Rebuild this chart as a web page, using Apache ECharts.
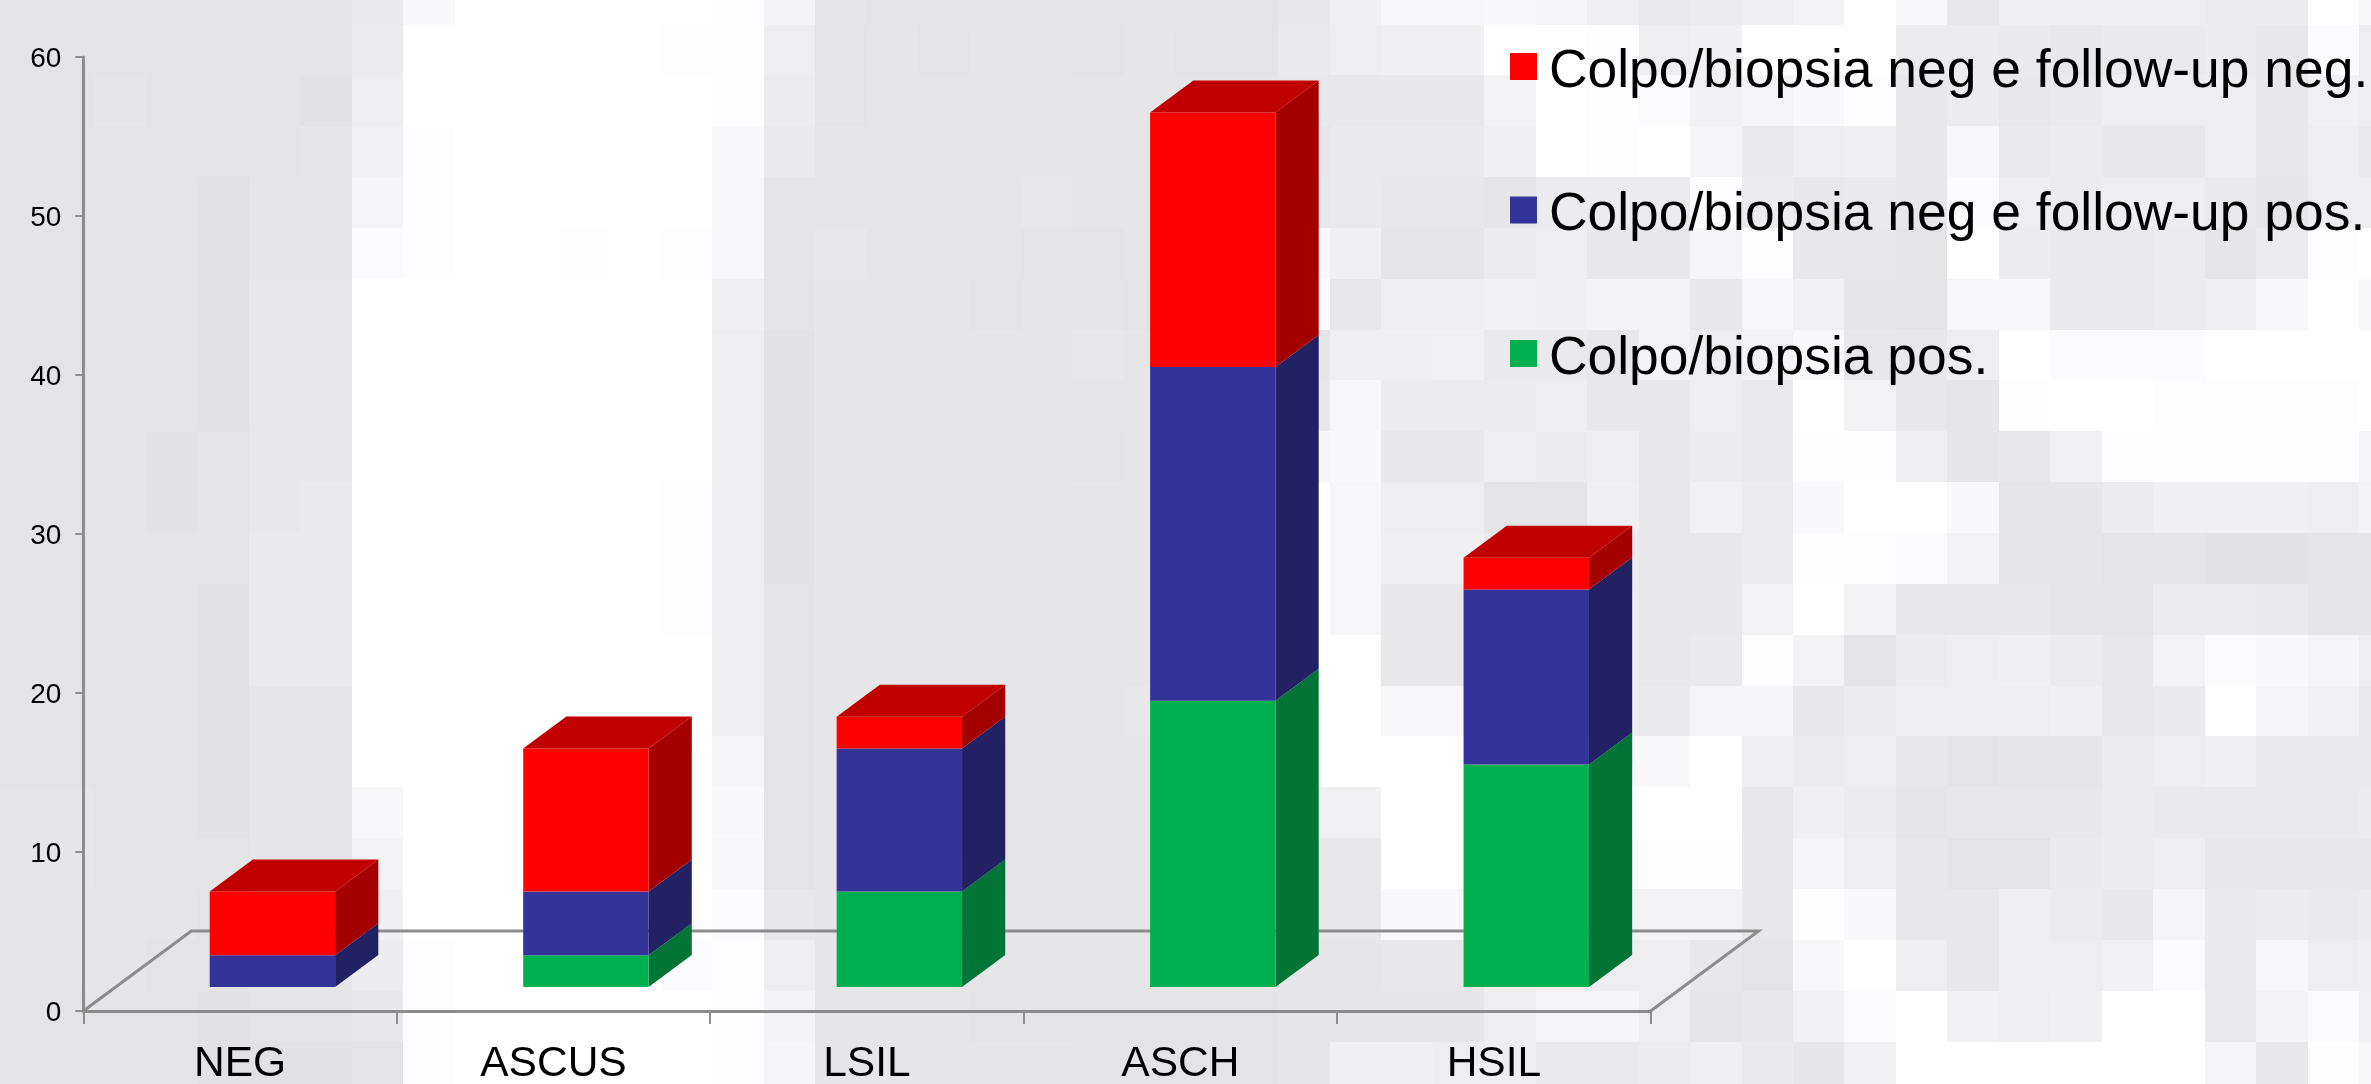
<!DOCTYPE html>
<html>
<head>
<meta charset="utf-8">
<style>
  html, body { margin: 0; padding: 0; background: #fff; }
  #chart { width: 2371px; height: 1084px; }
</style>
<script src="https://cdn.jsdelivr.net/npm/echarts@6/dist/echarts.min.js"></script>
</head>
<body>
<div id="chart"></div>
<script>
// Categories and stacked counts per cytology class
const categories = ['NEG', 'ASCUS', 'LSIL', 'ASCH', 'HSIL'];
const colpoPos = [0, 2, 6, 18, 14];
const followUpPos = [2, 4, 9, 21, 11];
const followUpNeg = [4, 9, 2, 16, 2];
const valueTicks = { min: 0, max: 60, interval: 10 };

const layerNames = [
  'Colpo/biopsia pos.',
  'Colpo/biopsia neg e follow-up pos.',
  'Colpo/biopsia neg e follow-up neg.'
];
const layerShades = [
  { front: '#00b050', side: '#007535', top: '#008a40' },
  { front: '#333399', side: '#212163', top: '#28287a' },
  { front: '#ff0000', side: '#a50000', top: '#c00000' }
];

// Slide backdrop: gray level of each tile, one hex digit per tile, one string per row
const backdropRows = [
  '11111114cfffffe9' + '211111111' + '37bbca' + '645 69fc366665 5fc'.replace(/ /g, ''),
  '11111115fffffee6' + '121221211' + '4677ff' + 'e67fff55434453d6',
  '1121110' + '6ffffffe5'        + '122222222' + '33339f' + 'ed8ace3534666386',
  '11111128efffffc4' + '222222222' + '24447f' + 'efa4673b45336364',
  '1111022aefffffb2' + '222232222' + '343325' + '55e5343d65664266',
  '1111022deffefeb2' + '322211212' + 'c72256' + '33ae331f544525ef',
  '1111033fffffff71' + '222122122' + 'e36687' + '993b821bb4456bfc',
  '1111033fffffff60' + '222223222' + '277844' + '3969c336fdddffff',
  '1111033fffffff60' + '222222222' + '3b5556' + '3364f932effeeeef',
  '1110133fffffff60' + '222221222' + 'bc3365' + '6354ee6238eeeeea',
  '1110134ffffffe60' + '222222222' + 'fb6611' + '7385cffc22577769',
  '1111144ffffffe60' + '222222222' + 'fb7744' + '5335eed922110011',
  '1111044ffffffe61' + '222222222' + 'fb3344' + '5339f93332255422',
  '1111044fffffff61' + '222222222' + 'ff3344' + '534e91567539dca6',
  '1111022fffffff61' + '222222322' + 'ffbb55' + '54aa35666734fa84',
  '1111022fffffffa1' + '222222222' + 'ffffcc' + 'ccf6563122567444',
  '2211022bffffffc1' + '222222222' + '88ffee' + 'fff3752333544445',
  '22111229ffffffb1' + '222222222' + '33ffee' + 'eee3a63114563333',
  '22221337ffffffd3' + '222222222' + '33cc88' + '9993ec33653a4545',
  '22211225effffde6' + '222222222' + '223366' + '6631bf63668d4b67',
  '11110113efffffe9' + '222111111' + '22226a' + 'a6238df867ff49d8',
  '11110001efffffea' + '222221111' + '277664' + '457428ffffffa3ec'
];

// Tile grid of the backdrop, in page pixels
const TILE = { x0: -8.47, y0: -26.35, w: 51.47, h: 50.85 };

// Oblique projection used for the 3D floor and columns
const FLOOR_DEPTH = { dx: 108, dy: 80 };
const COLUMN_DEPTH = 0.4;   // share of the floor depth taken by a column
const COLUMN_INSET = 0.3;   // share of the floor depth in front of a column
const COLUMN_WIDTH = 0.4;   // share of a category band

const AXIS_GRAY = '#8c8c8c';
const FONT = '"Liberation Sans", Arial, sans-serif';

// Legend swatch: a square with an empty extension below it, so that the
// square sits a little above the middle of its text line
const SWATCH = 'path://M0 0H27V27H0ZM0 38L0 38';

function backdropElements() {
  const els = [];
  backdropRows.forEach((row, r) => {
    const y0 = Math.round(TILE.y0 + r * TILE.h);
    const y1 = Math.round(TILE.y0 + (r + 1) * TILE.h);
    for (let c = 0; c < row.length; c++) {
      const x0 = Math.round(TILE.x0 + c * TILE.w);
      const x1 = Math.round(TILE.x0 + (c + 1) * TILE.w);
      const g = Math.round(226 + parseInt(row[c], 16) * 29 / 15);
      const b = Math.min(255, g + 3);
      els.push({
        type: 'rect',
        silent: true,
        z: -10,
        shape: { x: x0, y: y0, width: x1 - x0, height: y1 - y0 },
        style: { fill: `rgb(${g},${g},${b})` }
      });
    }
  });
  return els;
}

// Floor outline: the front edge is the category axis itself
function renderFloor(params, api) {
  const band = api.size([1, 0])[0];
  const origin = api.coord([0, 0]);
  const left = origin[0] - band / 2;
  const right = left + band * categories.length;
  const y = origin[1];
  return {
    type: 'polyline',
    shape: {
      points: [
        [left, y],
        [left + FLOOR_DEPTH.dx, y - FLOOR_DEPTH.dy],
        [right + FLOOR_DEPTH.dx, y - FLOOR_DEPTH.dy],
        [right, y]
      ]
    },
    style: { stroke: AXIS_GRAY, lineWidth: 3, fill: null, lineJoin: 'miter' }
  };
}

// One stacked segment of a column: front, right side and, on the last layer, the top
function renderSegment(shade, withTop) {
  return function (params, api) {
    const idx = api.value(0);
    const low = api.value(1);
    const high = api.value(2);
    if (high <= low) return null;
    const band = api.size([1, 0])[0];
    const w = band * COLUMN_WIDTH;
    const insetX = FLOOR_DEPTH.dx * COLUMN_INSET;
    const insetY = FLOOR_DEPTH.dy * COLUMN_INSET;
    const depthX = FLOOR_DEPTH.dx * COLUMN_DEPTH;
    const depthY = FLOOR_DEPTH.dy * COLUMN_DEPTH;
    const center = api.coord([idx, 0])[0];
    const x0 = center + insetX - w / 2;
    const x1 = x0 + w;
    const yLow = api.coord([idx, low])[1] - insetY;
    const yHigh = api.coord([idx, high])[1] - insetY;
    const children = [
      {
        type: 'polygon',
        shape: { points: [[x1, yLow], [x1 + depthX, yLow - depthY], [x1 + depthX, yHigh - depthY], [x1, yHigh]] },
        style: { fill: shade.side }
      },
      {
        type: 'rect',
        shape: { x: x0, y: yHigh, width: w, height: yLow - yHigh },
        style: { fill: shade.front }
      }
    ];
    if (withTop) {
      children.push({
        type: 'polygon',
        shape: { points: [[x0, yHigh], [x1, yHigh], [x1 + depthX, yHigh - depthY], [x0 + depthX, yHigh - depthY]] },
        style: { fill: shade.top }
      });
    }
    return { type: 'group', children };
  };
}

const layers = [colpoPos, followUpPos, followUpNeg];
const running = categories.map(() => 0);
const columnSeries = layers.map((values, li) => {
  const data = values.map((v, i) => {
    const row = [i, running[i], running[i] + v];
    running[i] += v;
    return row;
  });
  return {
    type: 'custom',
    name: layerNames[li],
    coordinateSystem: 'cartesian2d',
    itemStyle: { color: layerShades[li].front },
    encode: { x: 0, y: [1, 2] },
    data,
    renderItem: renderSegment(layerShades[li], li === layers.length - 1),
    silent: true,
    z: 3
  };
});

const chart = echarts.init(document.getElementById('chart'), null, { renderer: 'canvas' });
chart.setOption({
  animation: false,
  backgroundColor: '#ffffff',
  graphic: { elements: backdropElements() },
  grid: {
    left: 83.3, right: 720.4, top: 57, bottom: 73,
    containLabel: false,
    outerBoundsMode: 'none'
  },
  legend: {
    data: layerNames.slice().reverse(),
    orient: 'vertical',
    left: 1510,
    top: 45.5,
    padding: 0,
    itemWidth: 27,
    itemHeight: 38,
    itemGap: 90.5,
    icon: SWATCH,
    selectedMode: false,
    textStyle: { fontFamily: FONT, fontSize: 53.4, color: '#000', padding: [0, 0, 0, 7] }
  },
  xAxis: {
    type: 'category',
    data: categories,
    boundaryGap: true,
    axisLine: { lineStyle: { color: AXIS_GRAY, width: 3 } },
    axisTick: { show: true, alignWithLabel: false, length: 13, lineStyle: { color: AXIS_GRAY, width: 2 } },
    axisLabel: { fontFamily: FONT, fontSize: 42.5, color: '#000', margin: 32, interval: 0 }
  },
  yAxis: {
    type: 'value',
    min: valueTicks.min,
    max: valueTicks.max,
    interval: valueTicks.interval,
    splitLine: { show: false },
    axisLine: { show: true, lineStyle: { color: AXIS_GRAY, width: 3 } },
    axisTick: { show: true, length: 8, lineStyle: { color: AXIS_GRAY, width: 2 } },
    axisLabel: {
      fontFamily: FONT, fontSize: 28, color: '#000', margin: 22,
      verticalAlign: 'top', lineHeight: 5
    }
  },
  series: [
    {
      type: 'custom',
      coordinateSystem: 'cartesian2d',
      encode: { x: 0, y: 1 },
      data: [[0, 0]],
      renderItem: renderFloor,
      silent: true,
      z: 2
    }
  ].concat(columnSeries)
});
</script>
</body>
</html>
